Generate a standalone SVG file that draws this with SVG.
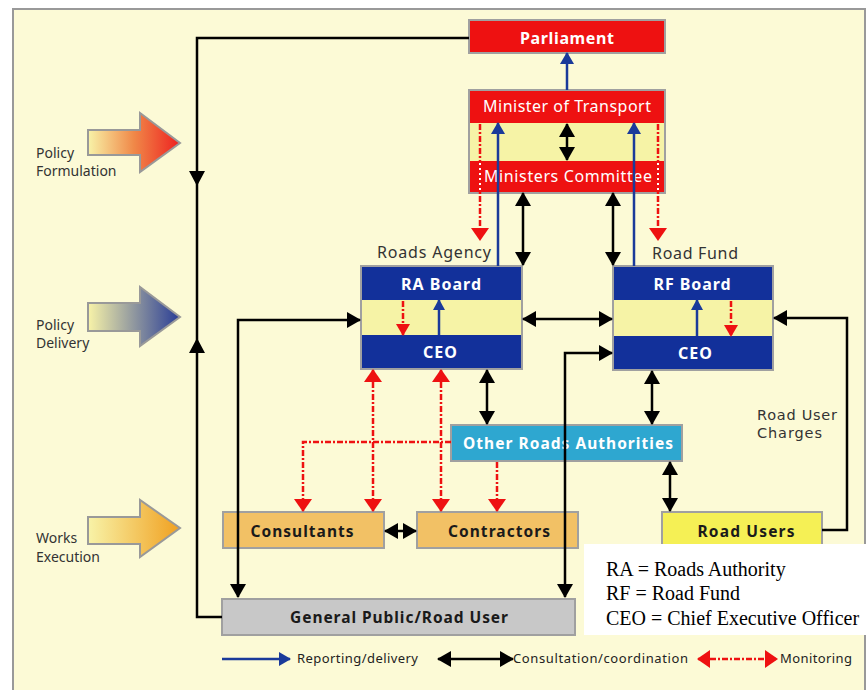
<svg xmlns="http://www.w3.org/2000/svg" width="867" height="690" viewBox="0 0 867 690">
<defs>
<style>
.lbl{font-family:"Noto Sans","DejaVu Sans",sans-serif;}
.side{font-family:"Noto Sans","DejaVu Sans",sans-serif;font-size:14px;fill:#333;}
.wb{font-family:"Noto Sans","DejaVu Sans",sans-serif;font-weight:bold;fill:#fff;}
.db{font-family:"Noto Sans","DejaVu Sans",sans-serif;font-weight:bold;fill:#1a1a1a;}
.box{stroke:#a0a0a0;stroke-width:2;}
.blk{stroke:#000;stroke-width:2.5;fill:none;}
.blu{stroke:#1a3a9a;stroke-width:2.5;fill:none;}
.red{stroke:#ee1111;stroke-width:2.5;fill:none;stroke-dasharray:6 2 2 2;}
.def{font-family:"Liberation Serif","Times New Roman",serif;font-size:20px;fill:#000;}
.leg{font-family:"Noto Sans","DejaVu Sans",sans-serif;font-size:13px;fill:#222;}
.chg{font-family:"DejaVu Sans","Noto Sans",sans-serif;font-size:14.5px;fill:#333;}
</style>
<marker id="ab" viewBox="0 0 14 16" refX="13" refY="8" markerWidth="14" markerHeight="16" markerUnits="userSpaceOnUse" orient="auto-start-reverse"><path d="M0,0 L14,8 L0,16 z" fill="#000"/></marker>
<marker id="au" viewBox="0 0 12 14" refX="11" refY="7" markerWidth="12" markerHeight="14" markerUnits="userSpaceOnUse" orient="auto-start-reverse"><path d="M0,0 L12,7 L0,14 z" fill="#1a3a9a"/></marker>
<marker id="ar" viewBox="0 0 13 18" refX="12" refY="9" markerWidth="13" markerHeight="18" markerUnits="userSpaceOnUse" orient="auto-start-reverse"><path d="M0,0 L13,9 L0,18 z" fill="#ee1111"/></marker>
<marker id="aus" viewBox="0 0 11 12" refX="10" refY="6" markerWidth="11" markerHeight="12" markerUnits="userSpaceOnUse" orient="auto-start-reverse"><path d="M0,0 L11,6 L0,12 z" fill="#1a3a9a"/></marker>
<marker id="ars" viewBox="0 0 12 14" refX="11" refY="7" markerWidth="12" markerHeight="14" markerUnits="userSpaceOnUse" orient="auto-start-reverse"><path d="M0,0 L12,7 L0,14 z" fill="#ee1111"/></marker>
<linearGradient id="gF" gradientUnits="userSpaceOnUse" x1="88" y1="0" x2="180" y2="0"><stop offset="0" stop-color="#f8f3a8"/><stop offset="0.5" stop-color="#f08848"/><stop offset="1" stop-color="#ee2020"/></linearGradient>
<linearGradient id="gD" gradientUnits="userSpaceOnUse" x1="88" y1="0" x2="180" y2="0"><stop offset="0" stop-color="#f8f3a8"/><stop offset="1" stop-color="#283c96"/></linearGradient>
<linearGradient id="gW" gradientUnits="userSpaceOnUse" x1="88" y1="0" x2="180" y2="0"><stop offset="0" stop-color="#f8f3a8"/><stop offset="1" stop-color="#f0a020"/></linearGradient>
</defs>
<rect x="0" y="0" width="867" height="690" fill="#fff"/>
<rect x="13" y="9" width="852" height="690" fill="#fcfad6" stroke="#999" stroke-width="2"/>

<g id="phase-formulation">
<polygon points="88,130 140,130 140,113 180,143 140,172 140,155 88,155" fill="url(#gF)" stroke="#999" stroke-width="2"/>
<text class="side" x="36" y="158">Policy</text><text class="side" x="36" y="176">Formulation</text>
</g>
<g id="phase-delivery">
<polygon points="88,303 140,303 140,287 180,317 140,346 140,331 88,331" fill="url(#gD)" stroke="#999" stroke-width="2"/>
<text class="side" x="36" y="330">Policy</text><text class="side" x="36" y="348">Delivery</text>
</g>
<g id="phase-works">
<polygon points="88,517 140,517 140,500 180,528 140,557 140,544 88,544" fill="url(#gW)" stroke="#999" stroke-width="2"/>
<text class="side" x="36" y="543">Works</text><text class="side" x="36" y="562">Execution</text>
</g>

<g id="parliament">
<rect class="box" x="469" y="20" width="196" height="33" fill="#ee1111"/>
<text class="wb" x="567" y="44" font-size="16" text-anchor="middle" textLength="94">Parliament</text>
</g>
<g id="ministers">
<rect class="box" x="469" y="90" width="196" height="103" fill="#f6f3a6"/>
<rect x="470" y="91" width="194" height="32" fill="#ee1111"/>
<rect x="470" y="161" width="194" height="31" fill="#ee1111"/>
<text class="lbl" x="567" y="112" font-size="16" fill="#fff" text-anchor="middle" textLength="168">Minister of Transport</text>
<text class="lbl" x="568" y="182" font-size="16" fill="#fff" text-anchor="middle" textLength="168">Ministers Committee</text>
</g>
<g id="roads-agency">
<text class="lbl" x="377" y="258" font-size="16" fill="#333" textLength="114">Roads Agency</text>
<rect class="box" x="361" y="266" width="161" height="103" fill="#f6f3a6"/>
<rect x="362" y="267" width="159" height="33" fill="#12309a"/>
<rect x="362" y="335" width="159" height="33" fill="#12309a"/>
<text class="wb" x="441" y="290" font-size="16" text-anchor="middle" textLength="80">RA Board</text>
<text class="wb" x="440" y="358" font-size="16" text-anchor="middle" textLength="34">CEO</text>
</g>
<g id="road-fund">
<text class="lbl" x="652" y="259" font-size="16" fill="#333" textLength="86">Road Fund</text>
<rect class="box" x="613" y="266" width="160" height="104" fill="#f6f3a6"/>
<rect x="614" y="267" width="158" height="33" fill="#12309a"/>
<rect x="614" y="336" width="158" height="33" fill="#12309a"/>
<text class="wb" x="692" y="290" font-size="16" text-anchor="middle" textLength="77">RF Board</text>
<text class="wb" x="695" y="359" font-size="16" text-anchor="middle" textLength="34">CEO</text>
</g>
<g id="other-roads-authorities">
<rect class="box" x="451" y="425" width="231" height="36" fill="#2ea7d0"/>
<text class="wb" x="568" y="449" font-size="15.5" text-anchor="middle" textLength="210">Other Roads Authorities</text>
</g>
<g id="consultants">
<rect class="box" x="223" y="512" width="161" height="36" fill="#f2c165"/>
<text class="db" x="302" y="537" font-size="15.5" text-anchor="middle" textLength="103">Consultants</text>
</g>
<g id="contractors">
<rect class="box" x="417" y="512" width="161" height="36" fill="#f2c165"/>
<text class="db" x="499" y="537" font-size="15.5" text-anchor="middle" textLength="102">Contractors</text>
</g>
<g id="road-users">
<rect class="box" x="662" y="512" width="160" height="36" fill="#f5f055"/>
<text class="db" x="746" y="537" font-size="15.5" text-anchor="middle" textLength="97">Road Users</text>
</g>
<g id="general-public">
<rect class="box" x="222" y="599" width="353" height="36" fill="#c8c8c8"/>
<text class="db" x="399" y="623" font-size="15.5" text-anchor="middle" textLength="218">General Public/Road User</text>
</g>
<g id="road-user-charges-label">
<text class="chg" x="757" y="420" textLength="80">Road User</text>
<text class="chg" x="757" y="438" textLength="65">Charges</text>
</g>

<g id="connectors">
<line class="blu" x1="567" y1="90" x2="567" y2="53" marker-end="url(#au)"/>
<path class="blk" d="M469,38 L197,38 L197,617 L222,617"/>
<polygon points="189,171 205,171 197,186" fill="#000"/>
<polygon points="189,353 205,353 197,338" fill="#000"/>
<line class="blk" x1="567" y1="124" x2="567" y2="160" marker-start="url(#ab)" marker-end="url(#ab)"/>
<line class="blu" x1="498" y1="266" x2="498" y2="123" marker-end="url(#au)"/>
<line class="blu" x1="634" y1="266" x2="634" y2="123" marker-end="url(#au)"/>
<line class="red" x1="480" y1="124" x2="480" y2="240" marker-end="url(#ar)"/>
<line class="red" x1="658" y1="124" x2="658" y2="240" marker-end="url(#ar)"/>
<line x1="480" y1="163" x2="480" y2="191" stroke="#fff" stroke-width="2" stroke-dasharray="2 3"/>
<line x1="658" y1="163" x2="658" y2="191" stroke="#fff" stroke-width="2" stroke-dasharray="2 3"/>
<line class="blk" x1="523" y1="193" x2="523" y2="265" marker-start="url(#ab)" marker-end="url(#ab)"/>
<line class="blk" x1="613" y1="193" x2="613" y2="265" marker-start="url(#ab)" marker-end="url(#ab)"/>
<line class="red" x1="403" y1="301" x2="403" y2="335" marker-end="url(#ars)"/>
<line class="blu" x1="439" y1="335" x2="439" y2="300" marker-end="url(#aus)"/>
<line class="blu" x1="697" y1="336" x2="697" y2="300" marker-end="url(#aus)"/>
<line class="red" x1="731" y1="301" x2="731" y2="336" marker-end="url(#ars)"/>
<line class="blk" x1="523" y1="319" x2="612" y2="319" marker-start="url(#ab)" marker-end="url(#ab)"/>
<path class="blk" d="M238,597 L238,320 L360,320" marker-start="url(#ab)" marker-end="url(#ab)"/>
<path class="blk" d="M565,597 L565,353 L612,353" marker-start="url(#ab)" marker-end="url(#ab)"/>
<line class="blk" x1="487" y1="370" x2="487" y2="424" marker-start="url(#ab)" marker-end="url(#ab)"/>
<line class="blk" x1="652" y1="371" x2="652" y2="424" marker-start="url(#ab)" marker-end="url(#ab)"/>
<line class="blk" x1="670" y1="462" x2="670" y2="511" marker-start="url(#ab)" marker-end="url(#ab)"/>
<line class="blk" x1="385" y1="531" x2="416" y2="531" marker-start="url(#ab)" marker-end="url(#ab)"/>
<path class="blk" d="M822,530 L847,530 L847,318 L774,318" marker-end="url(#ab)"/>
<line class="red" x1="373" y1="370" x2="373" y2="511" marker-start="url(#ar)" marker-end="url(#ar)"/>
<line class="red" x1="441" y1="370" x2="441" y2="511" marker-start="url(#ar)" marker-end="url(#ar)"/>
<path class="red" d="M451,442 L303,442 L303,511" marker-end="url(#ar)"/>
<line class="red" x1="497" y1="462" x2="497" y2="511" marker-end="url(#ar)"/>
</g>

<g id="legend">
<line class="blu" x1="222" y1="659" x2="290" y2="659" marker-end="url(#au)"/>
<text class="leg" x="297" y="663" textLength="121">Reporting/delivery</text>
<line class="blk" x1="438" y1="659" x2="513" y2="659" marker-start="url(#ab)" marker-end="url(#ab)"/>
<text class="leg" x="513" y="663" textLength="175">Consultation/coordination</text>
<line class="red" x1="698" y1="659" x2="777" y2="659" marker-start="url(#ar)" marker-end="url(#ar)"/>
<text class="leg" x="780" y="663" textLength="72">Monitoring</text>
</g>

<g id="abbreviations">
<rect x="584" y="544" width="283" height="91" fill="#fff"/>
<text class="def" x="606" y="576">RA = Roads Authority</text>
<text class="def" x="606" y="600">RF = Road Fund</text>
<text class="def" x="606" y="625">CEO = Chief Executive Officer</text>
</g>
</svg>
